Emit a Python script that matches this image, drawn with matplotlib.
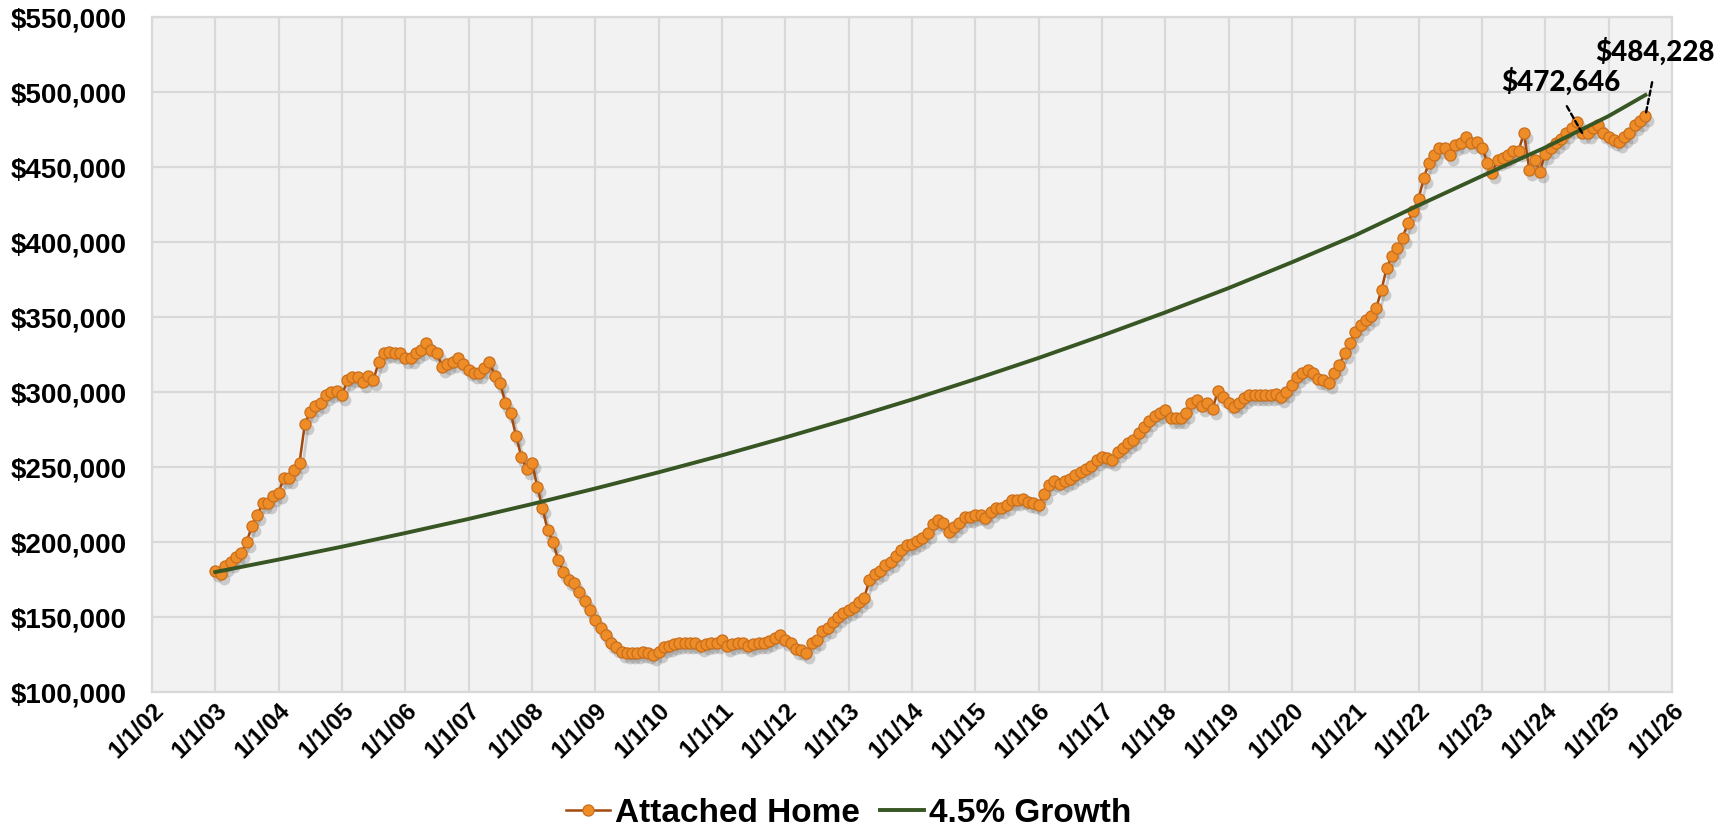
import os
import matplotlib
matplotlib.use('Agg')
import matplotlib.pyplot as plt
import matplotlib.dates as mdates
import matplotlib.transforms as mtransforms
from matplotlib.ticker import FuncFormatter, MultipleLocator
from matplotlib import font_manager
from matplotlib.font_manager import FontProperties
import pandas as pd

# median attached home price, monthly from Jan 2003, in $1,000s
attached_start = '2003-01-01'
attached_k = [
    181, 179, 184, 187, 190, 193, 200, 211, 218, 226, 226, 231,  # 2003
    233, 243, 243, 248, 253, 279, 287, 291, 293, 298, 300, 301,  # 2004
    298, 308, 310, 310, 307, 311, 308, 320, 326, 327, 326, 326,  # 2005
    323, 323, 326, 328, 333, 328, 326, 317, 319, 320, 323, 319,  # 2006
    315, 313, 313, 316, 320, 311, 306, 293, 286, 271, 257, 249,  # 2007
    253, 237, 223, 208, 200, 188, 180, 175, 173, 167, 161, 155,  # 2008
    148, 143, 138, 133, 130, 127, 126, 126, 126, 127, 126, 125,  # 2009
    127, 130, 131, 132, 133, 133, 133, 133, 131, 132, 133, 133,  # 2010
    135, 131, 132, 133, 133, 131, 132, 133, 133, 134, 136, 138,  # 2011
    135, 133, 129, 128, 126, 133, 135, 141, 143, 147, 150, 153,  # 2012
    155, 157, 160, 163, 175, 179, 181, 185, 187, 191, 195, 198,  # 2013
    199, 201, 203, 206, 212, 215, 213, 207, 210, 213, 217, 217,  # 2014
    218, 218, 216, 220, 223, 223, 225, 228, 228, 229, 227, 226,  # 2015
    225, 232, 238, 241, 239, 241, 242, 245, 247, 249, 251, 255,  # 2016
    257, 256, 255, 260, 263, 266, 268, 273, 277, 281, 284, 286,  # 2017
    288, 283, 283, 283, 286, 293, 295, 291, 293, 289, 301, 297,  # 2018
    293, 290, 293, 296, 298, 298, 298, 298, 298, 299, 297, 300,  # 2019
    305, 310, 313, 315, 313, 309, 308, 306, 313, 318, 326, 333,  # 2020
    340, 345, 348, 351, 356, 368, 383, 391, 396, 403, 413, 421,  # 2021
    429, 443, 453, 458, 463, 463, 458, 465, 466, 470, 466, 467,  # 2022
    463, 453, 446, 455, 456, 458, 461, 461, 473, 448, 455, 447,  # 2023
    459, 463, 466, 469, 473, 476, 480, 472.646, 473, 476, 478, 473,  # 2024
    470, 468, 467, 470, 473, 478, 481, 484.228,  # 2025
]

# 4.5% growth reference line, read at each Jan 1 (plus the last month)
growth_dates = ['2003-01-01', '2004-01-01', '2005-01-01', '2006-01-01', '2007-01-01',
                '2008-01-01', '2009-01-01', '2010-01-01', '2011-01-01', '2012-01-01',
                '2013-01-01', '2014-01-01', '2015-01-01', '2016-01-01', '2017-01-01',
                '2018-01-01', '2019-01-01', '2020-01-01', '2021-01-01', '2022-01-01',
                '2023-01-01', '2024-01-01', '2025-01-01', '2025-08-01']
growth_k = [180, 188.3, 196.9, 206, 215.4, 225.3, 235.7, 246.5, 257.8, 269.7,
            282.1, 295, 308.6, 322.7, 337.6, 353.1, 369.3, 386.5, 404.5, 424.5,
            444, 463, 484, 498]

# year-over-year callouts
callout_dates = ['2024-08-01', '2025-08-01']
callout_values = [472646, 484228]

attached_dates = pd.date_range(attached_start, periods=len(attached_k), freq='MS')
attached = [v * 1000 for v in attached_k]
growth = [v * 1000 for v in growth_k]
growth_dt = pd.to_datetime(growth_dates)


def find_font(parts):
    files = [f.fname for f in font_manager.fontManager.ttflist]
    for part in parts:
        for fn in files:
            if os.path.basename(fn).lower().startswith(part.lower()):
                return fn
    return None


plt.rcParams['font.family'] = 'Liberation Sans'
plt.rcParams['font.weight'] = 'bold'

ann_file = find_font(['Lato-Heavy.', 'Lato-Black.', 'Lato-Bold.', 'OpenSans-Bold.',
                      'NotoSans-Bold.'])
if ann_file:
    ann_font = FontProperties(fname=ann_file, size=20)
else:
    ann_font = FontProperties(family='DejaVu Sans', weight='bold', size=17)

fig = plt.figure(figsize=(17.29, 8.27), dpi=100)
ax = fig.add_axes([0.0879, 0.1632, 0.8791, 0.8162])
ax.set_facecolor('#f2f2f2')

# soft drop shadow under the orange series
shadow = mtransforms.offset_copy(ax.transData, fig=fig, x=3, y=-5, units='dots')
ax.plot(attached_dates, attached, color='#6f6f6f', lw=2, marker='o', ms=8.5,
        mec='none', mfc='#6f6f6f', alpha=0.3, transform=shadow, zorder=2)
ax.plot(attached_dates, attached, color='#a3490e', lw=1.8, marker='o', ms=8,
        mfc='#ee8c27', mec='#c96f1c', mew=0.9, label='Attached Home', zorder=3)
ax.plot(growth_dt, growth, color='#375623', lw=2.8, label='4.5% Growth', zorder=4)

offsets = [(-21, 51), (10, 64)]
shrinks = [(6, 0), (10, 2)]
for d, v, off, sh in zip(callout_dates, callout_values, offsets, shrinks):
    ax.annotate('${:,.0f}'.format(v), xy=(pd.Timestamp(d), v),
                xytext=off, textcoords='offset pixels', ha='center', va='center',
                fontproperties=ann_font, color='black', zorder=6,
                arrowprops=dict(arrowstyle='-', ls=(0, (2.2, 1.4)), lw=1.7, color='black',
                                shrinkA=sh[0], shrinkB=sh[1], relpos=(0.5, 0.0)))

ax.set_xlim(pd.Timestamp('2002-01-01'), pd.Timestamp('2026-01-01'))
ax.set_ylim(100000, 550000)
ax.xaxis.set_major_locator(mdates.YearLocator())
ax.xaxis.set_major_formatter(FuncFormatter(
    lambda x, pos: '{0.month}/{0.day}/{0:%y}'.format(mdates.num2date(x))))
ax.yaxis.set_major_locator(MultipleLocator(50000))
ax.yaxis.set_major_formatter(FuncFormatter(lambda v, pos: '${:,.0f}'.format(v)))

ax.grid(True, color='#d9d9d9', lw=1.6)
ax.set_axisbelow(True)
for s in ax.spines.values():
    s.set_color('#d9d9d9')
    s.set_linewidth(1.6)
ax.tick_params(axis='y', length=0, pad=18, labelsize=20)
ax.tick_params(axis='x', length=0, pad=5, labelsize=17.5)
for lbl in ax.get_xticklabels():
    lbl.set_rotation(45)
    lbl.set_ha('right')
    lbl.set_rotation_mode('anchor')
for lbl in ax.get_xticklabels() + ax.get_yticklabels():
    lbl.set_fontweight('bold')

fig.legend(loc='center', bbox_to_anchor=(0.491, 0.0169), ncol=2, frameon=False,
           prop={'family': 'Liberation Sans', 'weight': 'bold', 'size': 24},
           handlelength=1.32, handletextpad=0.15, columnspacing=0.6)

fig.savefig('out.png', dpi=100)
